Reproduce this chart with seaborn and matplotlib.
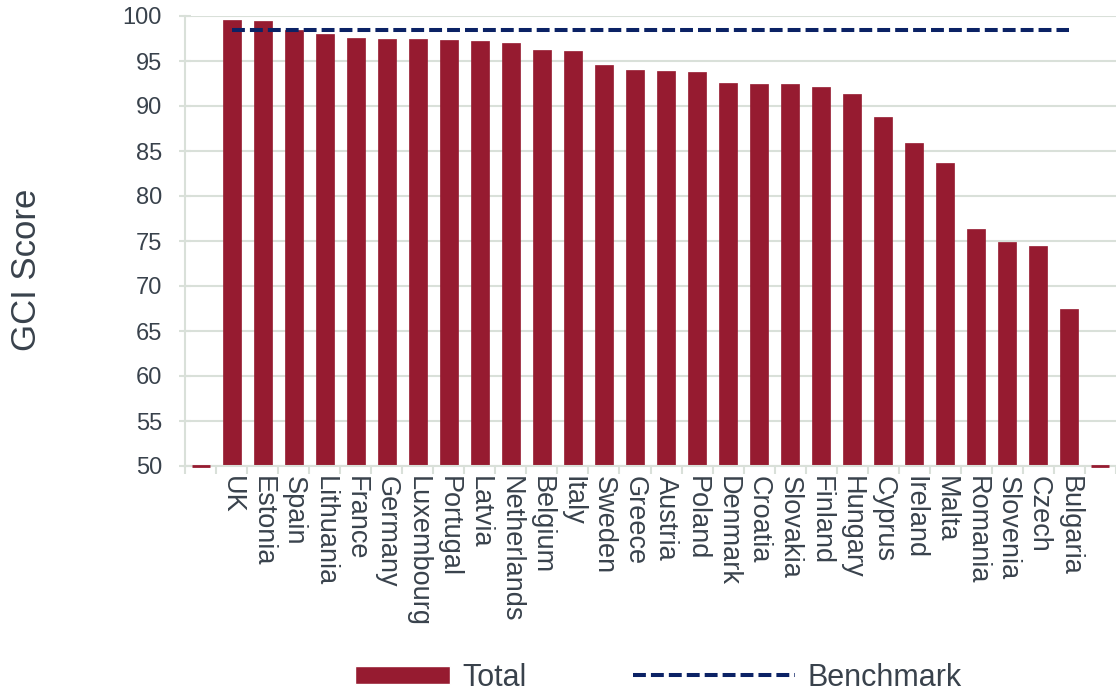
import numpy as np
import matplotlib
matplotlib.use("Agg")
import matplotlib.pyplot as plt
import seaborn as sns
from matplotlib.patches import Patch
from matplotlib.lines import Line2D

# GCI scores per country
countries = ["UK", "Estonia", "Spain", "Lithuania", "France", "Germany",
             "Luxembourg", "Portugal", "Latvia", "Netherlands", "Belgium",
             "Italy", "Sweden", "Greece", "Austria", "Poland", "Denmark",
             "Croatia", "Slovakia", "Finland", "Hungary", "Cyprus", "Ireland",
             "Malta", "Romania", "Slovenia", "Czech", "Bulgaria"]
scores = [99.6, 99.5, 98.5, 98.0, 97.6, 97.4, 97.4, 97.3, 97.2, 97.0, 96.2,
          96.1, 94.6, 94.0, 93.9, 93.8, 92.6, 92.5, 92.4, 92.1, 91.3, 88.8,
          85.9, 83.7, 76.3, 74.9, 74.4, 67.4]
benchmark = [98.5] * len(countries)

# empty category at each end (zero-height bars on the baseline)
slots = [" "] + countries + ["  "]
slot_scores = [50] + scores + [50]
y_min, y_max = 50, 100
y_ticks = list(range(50, 101, 5))

bar_color = "#961B30"
navy = "#0B2265"
grid_color = "#D9E0D9"
text_color = "#39424C"

sns.set_style("white")
plt.rcParams["font.family"] = ["Liberation Sans", "DejaVu Sans"]

W, H = 1116, 695
fig = plt.figure(figsize=(W / 100, H / 100), dpi=100)
ax = fig.add_axes([185 / W, (H - 466) / H, (W - 185) / W, 450 / H])

sns.barplot(x=slots, y=[s - y_min for s in slot_scores], bottom=y_min,
            order=slots, color=bar_color, saturation=1, width=0.58,
            edgecolor=bar_color, linewidth=0.5, ax=ax, zorder=2)
for p in (ax.patches[0], ax.patches[-1]):
    p.set_linewidth(2)
    p.set_clip_on(False)
    p.set_zorder(4)

sns.lineplot(x=np.arange(1, len(countries) + 1), y=benchmark, color=navy,
             lw=2.9, linestyle=(0, (3.2, 1.25)), ax=ax, zorder=3)

ax.set_xlim(-0.5, len(slots) - 0.5)
ax.set_ylim(y_min, y_max)
ax.set_yticks(y_ticks)
ax.set_xticks(range(len(slots)))
ax.set_xticklabels(slots, rotation=-90)
ax.set_xticks(np.arange(-0.5, len(slots), 1), minor=True)
ax.set_xlabel("")

ax.yaxis.grid(True, color=grid_color, lw=1.5)
ax.set_axisbelow(True)
for side in ["top", "right"]:
    ax.spines[side].set_visible(False)
for side in ["left", "bottom"]:
    ax.spines[side].set_color(grid_color)
    ax.spines[side].set_linewidth(1.5)

ax.tick_params(axis="y", direction="inout", length=9, width=1.5,
               color=grid_color, labelsize=17, labelcolor=text_color, pad=12,
               left=True)
ax.tick_params(axis="x", which="major", length=0, labelsize=19.5,
               labelcolor=text_color, pad=7)
ax.tick_params(axis="x", which="minor", direction="out", length=6, width=1.5,
               color=grid_color, bottom=True)

ax.set_ylabel("GCI Score", fontsize=25, color=text_color)
ax.yaxis.set_label_coords(-0.152, 0.436)

leg_size = 22
fs_px = leg_size * 100 / 72
fig.legend(handles=[Patch(facecolor=bar_color, label="Total")],
           loc="center left", bbox_to_anchor=(355 / W, 17 / H),
           frameon=False, fontsize=leg_size, handlelength=95 / fs_px,
           handleheight=17 / fs_px, handletextpad=12 / fs_px, borderpad=0,
           borderaxespad=0, labelcolor=text_color)
fig.legend(handles=[Line2D([], [], color=navy, lw=2.9,
                           linestyle=(0, (3.2, 1.25)), label="Benchmark")],
           loc="center left", bbox_to_anchor=(633 / W, 17 / H),
           frameon=False, fontsize=leg_size, handlelength=162 / fs_px,
           handletextpad=12 / fs_px, borderpad=0, borderaxespad=0,
           labelcolor=text_color)

fig.savefig("out.png", dpi=100)
